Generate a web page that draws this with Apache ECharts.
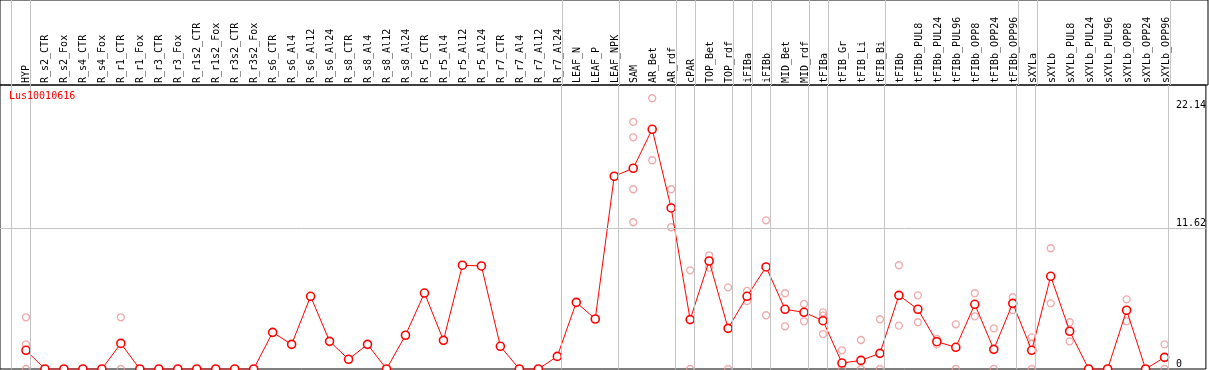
<!DOCTYPE html>
<html>
<head>
<meta charset="utf-8">
<script src="https://cdn.jsdelivr.net/npm/echarts@6/dist/echarts.min.js"></script>
<style>
html,body{margin:0;padding:0;background:#fff;}
#chart{width:1209px;height:370px;}
</style>
</head>
<body>
<div id="chart"></div>
<script>
// ---------------- data ----------------
const categories = [
  'HYP','R_s2_CTR','R_s2_Fox','R_s4_CTR','R_s4_Fox','R_r1_CTR','R_r1_Fox','R_r3_CTR','R_r3_Fox',
  'R_r1s2_CTR','R_r1s2_Fox','R_r3s2_CTR','R_r3s2_Fox','R_s6_CTR','R_s6_Al4','R_s6_Al12','R_s6_Al24',
  'R_s8_CTR','R_s8_Al4','R_s8_Al12','R_s8_Al24','R_r5_CTR','R_r5_Al4','R_r5_Al12','R_r5_Al24',
  'R_r7_CTR','R_r7_Al4','R_r7_Al12','R_r7_Al24','LEAF_N','LEAF_P','LEAF_NPK','SAM','AR_Bet','AR_rdf',
  'cPAR','TOP_Bet','TOP_rdf','iFIBa','iFIBb','MID_Bet','MID_rdf','tFIBa','tFIB_Gr','tFIB_Li','tFIB_Bi',
  'tFIBb','tFIBb_PUL8','tFIBb_PUL24','tFIBb_PUL96','tFIBb_OPP8','tFIBb_OPP24','tFIBb_OPP96',
  'sXYLa','sXYLb','sXYLb_PUL8','sXYLb_PUL24','sXYLb_PUL96','sXYLb_OPP8','sXYLb_OPP24','sXYLb_OPP96'
];
const meanValues = [
  1.54, 0, 0, 0, 0, 2.11, 0, 0, 0,
  0, 0, 0, 0, 3.02, 2.03, 5.99, 2.28,
  0.80, 2.03, 0, 2.78, 6.26, 2.36, 8.55, 8.49,
  1.87, 0, 0, 1.04, 5.49, 4.12, 15.88, 16.54, 19.75, 13.27,
  4.07, 8.90, 3.35, 5.99, 8.41, 4.92, 4.67, 3.98, 0.49, 0.71, 1.29,
  6.07, 4.92, 2.25, 1.79, 5.33, 1.62, 5.41,
  1.54, 7.64, 3.11, 0, 0, 4.84, 0, 0.96
];
const replicates = [
  [4.26, 2.03, 0], [], [], [], [], [4.26, 0], [], [], [],
  [], [], [], [], [], [], [], [],
  [], [], [], [], [], [], [], [],
  [], [], [], [], [], [], [], [20.36, 19.09, 14.81, 12.09], [22.31, 17.2], [14.81, 11.68],
  [8.13, 0], [9.37, 8.35], [6.73, 0], [6.43, 5.6], [12.25, 4.43], [6.24, 3.52], [5.36, 3.93], [4.67, 4.4, 2.88], [1.54, 0], [2.39, 0], [4.1, 0],
  [8.55, 3.57], [6.07, 3.85], [2.47, 2.03], [3.68, 0], [6.24, 4.34], [3.35, 0], [5.91, 4.86],
  [2.61, 2.11, 0], [9.95, 5.41], [3.85, 2.28], [], [], [5.74, 3.93], [], [2.03, 0]
];
// index of the last category in each group (-1 = left edge)
const groupEnds = [-1, 0, 28, 31, 34, 35, 37, 38, 39, 41, 42, 45, 52, 53, 60];
const yTopLabel = [22.14];
const yLowLabels = [11.62, 0];
const geneName = 'Lus10010616';

// ---------------- layout ----------------
const W = 1209, FRAME_RIGHT = 1208, FIRST_X = 26, STEP = 19.01;
const XMIN = -FIRST_X / STEP;
const XMAX = XMIN + FRAME_RIGHT / STEP;
const HEADER_H = 85;
const YMAX = 23.4;
const LINE_OFFSET = 0.21;
const FONT = 'DejaVu Sans Mono';

const boundaryLines = groupEnds.map(k => ({ xAxis: k + LINE_OFFSET }));
const repData = [];
replicates.forEach((arr, i) => arr.forEach(v => repData.push([i, v])));
const meanData = meanValues.map((v, i) => [i, v]);

const vLineStyle = { color: '#c4c4c4', width: 1, type: 'solid' };

const chart = echarts.init(document.getElementById('chart'), null, { renderer: 'canvas' });
chart.setOption({
  animation: false,
  backgroundColor: '#fff',
  title: {
    text: geneName, left: 9, top: 91, padding: 0,
    textStyle: { color: '#ff0000', fontSize: 10, fontWeight: 'normal', fontFamily: FONT }
  },
  grid: [
    { left: 0, right: W - FRAME_RIGHT, top: 0, height: HEADER_H, show: true, borderColor: '#000', borderWidth: 1, backgroundColor: 'transparent' },
    { left: 0, right: W - FRAME_RIGHT, top: HEADER_H, bottom: 1, show: true, borderColor: '#000', borderWidth: 1, backgroundColor: 'transparent' }
  ],
  xAxis: [
    {
      gridIndex: 0, type: 'value', min: XMIN, max: XMAX, position: 'bottom',
      axisLine: { show: false }, axisTick: { show: false }, splitLine: { show: false },
      axisLabel: {
        show: true, inside: true, rotate: 90, margin: 2,
        customValues: categories.map((c, i) => i),
        formatter: v => categories[Math.round(v)] || '',
        color: '#000', fontSize: 10, fontFamily: FONT
      }
    },
    {
      gridIndex: 1, type: 'value', min: XMIN, max: XMAX,
      axisLine: { show: false }, axisTick: { show: false }, splitLine: { show: false }, axisLabel: { show: false }
    }
  ],
  yAxis: [
    { gridIndex: 0, type: 'value', min: 0, max: 1, show: false },
    {
      gridIndex: 1, type: 'value', min: 0, max: YMAX, position: 'right',
      axisLine: { show: false }, axisTick: { show: false }, splitLine: { show: false },
      axisLabel: {
        inside: true, margin: 30, align: 'left', verticalAlign: 'top',
        customValues: yTopLabel, formatter: v => String(v),
        color: '#000', fontSize: 10, fontFamily: FONT
      }
    },
    {
      gridIndex: 1, type: 'value', min: 0, max: YMAX, position: 'right',
      axisLine: { show: false }, axisTick: { show: false }, splitLine: { show: false },
      axisLabel: {
        inside: true, margin: 30, align: 'left', verticalAlign: 'bottom',
        customValues: yLowLabels, formatter: v => String(v),
        color: '#000', fontSize: 10, fontFamily: FONT
      }
    }
  ],
  series: [
    {
      type: 'line', xAxisIndex: 0, yAxisIndex: 0, data: [[XMIN, 0]], showSymbol: false,
      lineStyle: { opacity: 0 }, silent: true,
      markLine: { silent: true, symbol: ['none', 'none'], label: { show: false }, lineStyle: vLineStyle, data: boundaryLines }
    },
    {
      type: 'scatter', xAxisIndex: 1, yAxisIndex: 1, data: repData,
      symbol: 'circle', symbolSize: 7,
      itemStyle: { color: 'rgba(0,0,0,0)', borderColor: '#eb9696', borderWidth: 1.3 },
      markLine: {
        silent: true, symbol: ['none', 'none'], label: { show: false },
        lineStyle: vLineStyle,
        data: boundaryLines.concat([{ yAxis: yLowLabels[0] }])
      },
      z: 2
    },
    {
      type: 'line', xAxisIndex: 1, yAxisIndex: 1, data: meanData,
      symbol: 'circle', symbolSize: 8, showAllSymbol: true,
      lineStyle: { color: '#ff0000', width: 1 },
      itemStyle: { color: '#fff', borderColor: '#ff0000', borderWidth: 1.6 },
      z: 3
    }
  ]
});
</script>
</body>
</html>
